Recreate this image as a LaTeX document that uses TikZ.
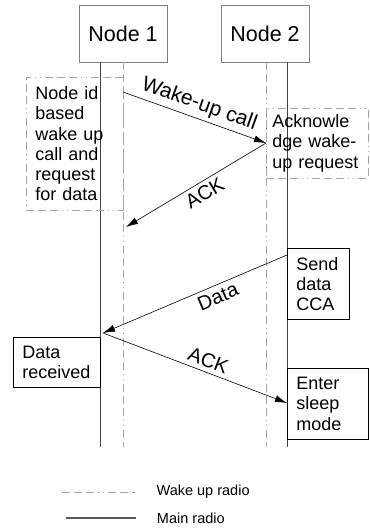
\documentclass[tikz,border=0pt]{standalone}
\usepackage{fontspec}
\setmainfont{Liberation Sans}
\usetikzlibrary{arrows.meta}
\hyphenpenalty=10000

\begin{document}
\begin{tikzpicture}[x=1pt,y=-1pt,
  wakedash/.style={dash pattern=on 8pt off 4pt on 8pt off 4pt on 8pt off 4pt on 1pt off 4pt on 1pt off 4pt},
  wakeline/.style={draw=gray!70,line width=0.6pt,wakedash},
  mainline/.style={black!75,line width=0.9pt},
  msg/.style={black,line width=0.6pt,-{Latex[length=12pt,width=7pt]}},
  head/.style={draw=gray,line width=0.7pt,minimum width=88pt,minimum height=57pt,inner sep=0pt,font=\fontsize{21.5}{24}\selectfont},
  note/.style={anchor=north west,align=left,inner ysep=0pt,font=\fontsize{18}{20.2}\selectfont},
  lbl/.style={font=\fontsize{20}{22}\selectfont,inner sep=4pt}]
  \useasboundingbox (0,0) rectangle (369,532);

  % the two nodes and their radios
  \node[head] (n1) at (123,33.5) {Node 1};
  \node[head] (n2) at (265,33.5) {Node 2};
  \draw[wakeline] (n1.south) -- ++(0,385) coordinate (n1w);
  \draw[mainline] ([xshift=-23pt]n1.south) -- ++(0,385) coordinate (n1m);
  \draw[wakeline] ([xshift=1pt]n2.south) -- ++(0,385) coordinate (n2w);
  \draw[mainline] ([xshift=22pt]n2.south) -- ++(0,385) coordinate (n2m);

  % notes beside the lifelines
  \node[note,wakeline,text width=79pt,inner xsep=9pt,minimum height=133pt] (req) at (26,77)
    {Node id\\based\\wake up\\call and\\request\\for data};
  \node[note,wakeline,text width=90pt,inner xsep=6pt,minimum height=70pt] (ackn) at (266,108)
    {Acknowle\\dge wake-\\up request};
  \node[note,draw,line width=0.7pt,text width=44pt,inner xsep=9pt,minimum height=71pt] (send) at (287,248)
    {Send\\data\\CCA};
  \node[note,draw,line width=0.7pt,text width=69pt,inner xsep=9pt,minimum height=50pt] (recv) at (13,337)
    {Data\\received};
  \node[note,draw,line width=0.7pt,text width=63pt,inner xsep=9pt,minimum height=71pt] (sleep) at (287,368)
    {Enter\\sleep\\mode};

  % messages
  \coordinate (c1) at (123,92);
  \coordinate (c2) at (266,143);
  \coordinate (c3) at (126,227);
  \coordinate (c4) at (287,255);
  \coordinate (c5) at (103,333);
  \coordinate (c6) at (287,403);
  \draw[msg] (c1) -- node[lbl,sloped,above,pos=0.5,font=\fontsize{21}{23}\selectfont] {Wake-up call} (c2);
  \draw[msg] (c2) -- node[lbl,sloped,below,pos=0.48] {ACK} (c3);
  \draw[msg] (c4) -- node[lbl,sloped,below,pos=0.4] {Data} (c5);
  \draw[msg] (c5) -- node[lbl,sloped,above,pos=0.55] {ACK} (c6);

  % legend
  \coordinate (lw) at (62,492);
  \coordinate (lm) at (66,518);
  \draw[wakeline] (lw) -- ++(73,0) node[right=18pt,black,font=\fontsize{14.5}{16}\selectfont] (lwt) {Wake up radio};
  \draw[mainline,line width=1.3pt,black!65] (lm) -- ++(70,0) node[right=17pt,black,font=\fontsize{14.5}{16}\selectfont] (lmt) {Main radio};
\end{tikzpicture}
\end{document}
